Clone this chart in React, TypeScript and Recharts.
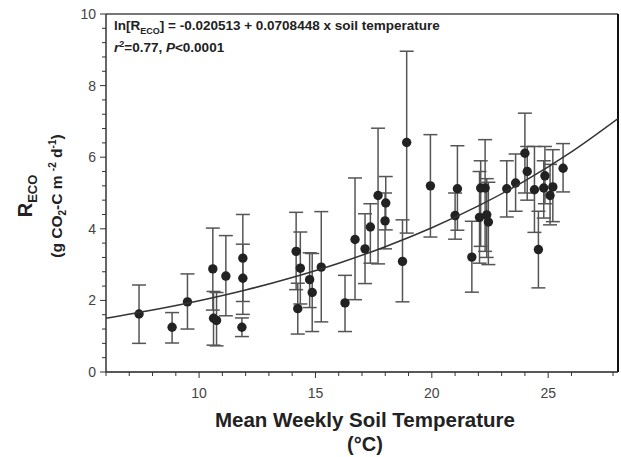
import { ScatterChart, Scatter, XAxis, YAxis, ErrorBar, ReferenceLine } from "recharts";

// mean weekly soil temperature (°C)
const soilTemp = [
  7.42, 8.84, 9.5, 10.59, 10.62, 10.75, 11.15, 11.88, 11.88, 11.84,
  14.17, 14.24, 14.35, 14.75, 14.86, 15.25, 16.27, 16.7, 17.13, 17.36,
  17.69, 18.02, 17.99, 18.74, 18.92, 19.94, 21.0, 21.1, 21.72, 22.05,
  22.1, 22.29, 22.36, 22.43, 23.22, 23.6, 24.0, 24.1, 24.41, 24.58,
  24.86, 24.81, 25.08, 25.2, 25.64,
];
// R_ECO means
const reco = [
  1.62, 1.25, 1.96, 2.88, 1.5, 1.44, 2.68, 3.18, 2.62, 1.25,
  3.37, 1.77, 2.9, 2.58, 2.22, 2.93, 1.93, 3.7, 3.44, 4.05,
  4.93, 4.72, 4.22, 3.09, 6.41, 5.2, 4.37, 5.12, 3.21, 4.32,
  5.14, 5.14, 4.39, 4.19, 5.12, 5.28, 6.11, 5.6, 5.09, 3.42,
  5.48, 5.14, 4.93, 5.17, 5.69,
];
// error bar ends
const recoLow = [
  0.8, 0.81, 1.2, 1.73, 0.75, 0.73, 1.57, 1.97, 1.61, 0.99,
  2.3, 1.06, 1.9, 1.8, 1.13, 1.4, 1.13, 2.02, 2.47, 3.04,
  3.02, 3.97, 3.44, 1.96, 3.88, 3.77, 3.71, 3.96, 2.23, 3.04,
  3.51, 3.37, 3.2, 3.0, 4.33, 4.49, 5.0, 4.8, 3.9, 2.35,
  4.7, 4.3, 4.11, 4.2, 5.03,
];
const recoHigh = [
  2.43, 1.66, 2.74, 4.02, 2.25, 2.22, 3.81, 4.4, 3.57, 1.51,
  4.46, 2.48, 3.91, 3.33, 3.31, 4.48, 2.7, 5.42, 4.42, 4.7,
  6.81, 5.46, 5.0, 4.25, 8.96, 6.63, 5.0, 6.32, 4.21, 5.6,
  5.9, 6.49, 5.4, 5.3, 5.9, 6.09, 7.23, 6.3, 6.3, 4.49,
  6.3, 5.9, 5.8, 6.21, 6.38,
];

// fitted curve
const fitTemp = [6, 8, 10, 12, 14, 16, 18, 20, 22, 24, 26, 28];
const fitReco = [1.5, 1.73, 1.99, 2.29, 2.64, 3.04, 3.5, 4.03, 4.64, 5.34, 6.15, 7.08];

const xTickLabels = [10, 15, 20, 25];
const yTickLabels = [0, 2, 4, 6, 8, 10];

const points = soilTemp.map((t, i) => ({
  t,
  r: reco[i],
  err: [reco[i] - recoLow[i], recoHigh[i] - reco[i]],
}));
const curve = fitTemp.map((t, i) => ({ t, r: fitReco[i] }));

const xTicks = Array.from({ length: 23 }, (_, i) => 6 + i);
const yTicks = Array.from({ length: 26 }, (_, i) => Math.round(i * 4) / 10);

const font = "Arial, 'Liberation Sans', sans-serif";

const XTick = (props: any) => {
  const { x, y, payload } = props;
  const major = xTickLabels.includes(payload.value);
  return (
    <g>
      <line x1={x} y1={y} x2={x} y2={y + (major ? 6 : 4)} stroke="#333" strokeWidth={1} />
      {major && (
        <text x={x} y={y + 26} textAnchor="middle" fontSize={14} fontFamily={font} fill="#444">
          {payload.value}
        </text>
      )}
    </g>
  );
};

const YTick = (props: any) => {
  const { x, y, payload } = props;
  const major = yTickLabels.some((v) => Math.abs(v - payload.value) < 1e-6);
  return (
    <g>
      <line x1={x} y1={y} x2={x - (major ? 6 : 4)} y2={y} stroke="#333" strokeWidth={1} />
      {major && (
        <text x={x - 10} y={y + 5} textAnchor="end" fontSize={14} fontFamily={font} fill="#444">
          {payload.value}
        </text>
      )}
    </g>
  );
};

const Dot = (props: any) => <circle cx={props.cx} cy={props.cy} r={4.7} fill="#222" />;

export default function App() {
  return (
    <div style={{ position: "absolute", left: 0, top: 0, width: 621, height: 457, background: "#fff" }}>
      <ScatterChart width={621} height={457} margin={{ top: 14, right: 3, bottom: 0, left: 0 }}>
        <XAxis
          type="number"
          dataKey="t"
          domain={[6, 28]}
          ticks={xTicks}
          height={85}
          tickSize={0}
          tickMargin={0}
          tickLine={false}
          tick={<XTick />}
          axisLine={{ stroke: "#222", strokeWidth: 1.5 }}
          allowDataOverflow
        />
        <YAxis
          type="number"
          dataKey="r"
          domain={[0, 10]}
          ticks={yTicks}
          width={106}
          tickSize={0}
          tickMargin={0}
          tickLine={false}
          tick={<YTick />}
          axisLine={{ stroke: "#333", strokeWidth: 1.5 }}
          allowDataOverflow
          interval={0}
        />
        <ReferenceLine y={10} stroke="#777" strokeWidth={2} />
        <ReferenceLine x={28} stroke="#111" strokeWidth={2} />
        <Scatter data={points} shape={<Dot />} isAnimationActive={false}>
          <ErrorBar dataKey="err" direction="y" width={7} stroke="#555" strokeWidth={1.5} />
        </Scatter>
        <Scatter
          data={curve}
          line={{ stroke: "#333", strokeWidth: 1.5 }}
          lineJointType="monotoneX"
          shape={() => <g />}
          isAnimationActive={false}
        />
      </ScatterChart>
      <svg
        width={621}
        height={457}
        style={{ position: "absolute", left: 0, top: 0, pointerEvents: "none" }}
        fontFamily={font}
      >
        <text x={114} y={30} fontSize={13.5} fontWeight="bold" fill="#222">
          ln[R
          <tspan dy={4} fontSize={9}>ECO</tspan>
          <tspan dy={-4}>] = -0.020513 + 0.0708448 x soil temperature</tspan>
        </text>
        <text x={114} y={52} fontSize={13.5} fontWeight="bold" fill="#222">
          <tspan fontStyle="italic">r</tspan>
          <tspan dy={-5} fontSize={9}>2</tspan>
          <tspan dy={5}>=0.77, </tspan>
          <tspan fontStyle="italic">P</tspan>
          <tspan>&lt;0.0001</tspan>
        </text>
        <g transform="rotate(-90)" fill="#222" fontWeight="bold">
          <text x={-196} y={32} fontSize={20} textAnchor="middle">
            R<tspan dy={5} fontSize={13}>ECO</tspan>
          </text>
          <text x={-196} y={62} fontSize={15.5} textAnchor="middle">
            (g CO<tspan dy={4} fontSize={10}>2</tspan>
            <tspan dy={-4}>-C m </tspan>
            <tspan dy={-6} fontSize={10}>-2</tspan>
            <tspan dy={6}> d</tspan>
            <tspan dy={-6} fontSize={10}>-1</tspan>
            <tspan dy={6}>)</tspan>
          </text>
        </g>
        <text x={365} y={427} fontSize={20.5} fontWeight="bold" fill="#222" textAnchor="middle">
          Mean Weekly Soil Temperature
        </text>
        <text x={365} y={451} fontSize={20} fontWeight="bold" fill="#222" textAnchor="middle">
          (°C)
        </text>
      </svg>
    </div>
  );
}
